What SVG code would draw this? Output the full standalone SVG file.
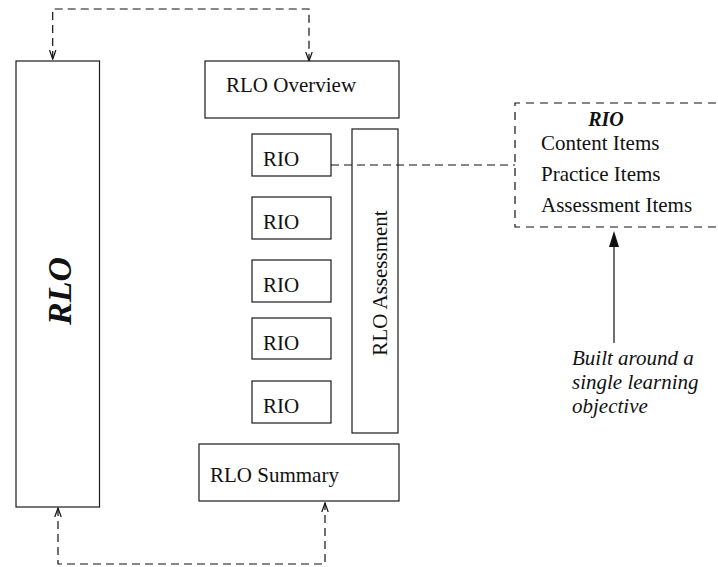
<svg xmlns="http://www.w3.org/2000/svg" width="718" height="567" viewBox="0 0 718 567">
  <defs>
    <style>
      .box { fill: #fff; stroke: #1a1a1a; stroke-width: 1.2; }
      .dash { fill: none; stroke: #111; stroke-width: 1.2; stroke-dasharray: 8 5; }
      .solid { fill: none; stroke: #111; stroke-width: 1.2; }
      .lbl { font-family: "Liberation Serif", "Times New Roman", serif; font-size: 21px; fill: #111; }
      .bi { font-weight: bold; font-style: italic; }
      .it { font-style: italic; }
    </style>
    <marker id="open" markerUnits="userSpaceOnUse" markerWidth="10" markerHeight="16" refX="9" refY="4" orient="auto-start-reverse" viewBox="0 0 10 8">
      <path d="M0,0.8 L9,4 L0,7.2" fill="none" stroke="#111" stroke-width="1.2"/>
    </marker>
  </defs>

  <!-- connectors -->
  <g id="connectors">
    <path class="dash" d="M52.7,59 V9 H309 V61" marker-start="url(#open)" marker-end="url(#open)"/>
    <path class="dash" d="M58,508 V564 H325 V503" marker-start="url(#open)" marker-end="url(#open)"/>
    <path class="dash" d="M331,165 H515"/>
    <line class="solid" x1="614" y1="343" x2="614" y2="244"/>
    <polygon points="614,231 609,247 619,247" fill="#111"/>
  </g>

  <!-- RLO -->
  <g id="rlo">
    <rect class="box" x="16" y="61" width="83.5" height="446"/>
    <text class="lbl bi" style="font-size:34px" transform="translate(71,291) rotate(-90)" text-anchor="middle">RLO</text>
  </g>

  <!-- RLO Overview -->
  <g id="rlo-overview">
    <rect class="box" x="205" y="61" width="194" height="57"/>
    <text class="lbl" x="226" y="92">RLO Overview</text>
  </g>

  <!-- RIO boxes -->
  <g id="rio-1">
    <rect class="box" x="252" y="134" width="79" height="42"/>
    <text class="lbl" x="263" y="166">RIO</text>
  </g>
  <g id="rio-2">
    <rect class="box" x="252" y="197" width="79" height="42"/>
    <text class="lbl" x="263" y="229">RIO</text>
  </g>
  <g id="rio-3">
    <rect class="box" x="252" y="260" width="79" height="42"/>
    <text class="lbl" x="263" y="292">RIO</text>
  </g>
  <g id="rio-4">
    <rect class="box" x="252" y="318" width="79" height="41"/>
    <text class="lbl" x="263" y="350">RIO</text>
  </g>
  <g id="rio-5">
    <rect class="box" x="252" y="381" width="79" height="42"/>
    <text class="lbl" x="263" y="413">RIO</text>
  </g>

  <!-- RLO Assessment -->
  <g id="rlo-assessment">
    <rect class="box" x="352" y="129" width="46" height="304" style="fill:none"/>
    <text class="lbl" transform="translate(387,283) rotate(-90)" text-anchor="middle">RLO Assessment</text>
  </g>

  <!-- RLO Summary -->
  <g id="rlo-summary">
    <rect class="box" x="199" y="444" width="200" height="57"/>
    <text class="lbl" x="210" y="482">RLO Summary</text>
  </g>

  <!-- RIO detail -->
  <g id="rio-detail">
    <path class="dash" d="M730,103 H515 V227 H730" style="stroke-dasharray:8 6"/>
    <text class="lbl bi" style="font-size:20px" x="606" y="126" text-anchor="middle">RIO</text>
    <text class="lbl" x="541" y="150">Content Items</text>
    <text class="lbl" x="541" y="181">Practice Items</text>
    <text class="lbl" x="541" y="212">Assessment Items</text>
  </g>

  <!-- note -->
  <g id="note">
    <text class="lbl it" x="572" y="365">Built around a</text>
    <text class="lbl it" x="572" y="389">single learning</text>
    <text class="lbl it" x="572" y="413">objective</text>
  </g>
</svg>
